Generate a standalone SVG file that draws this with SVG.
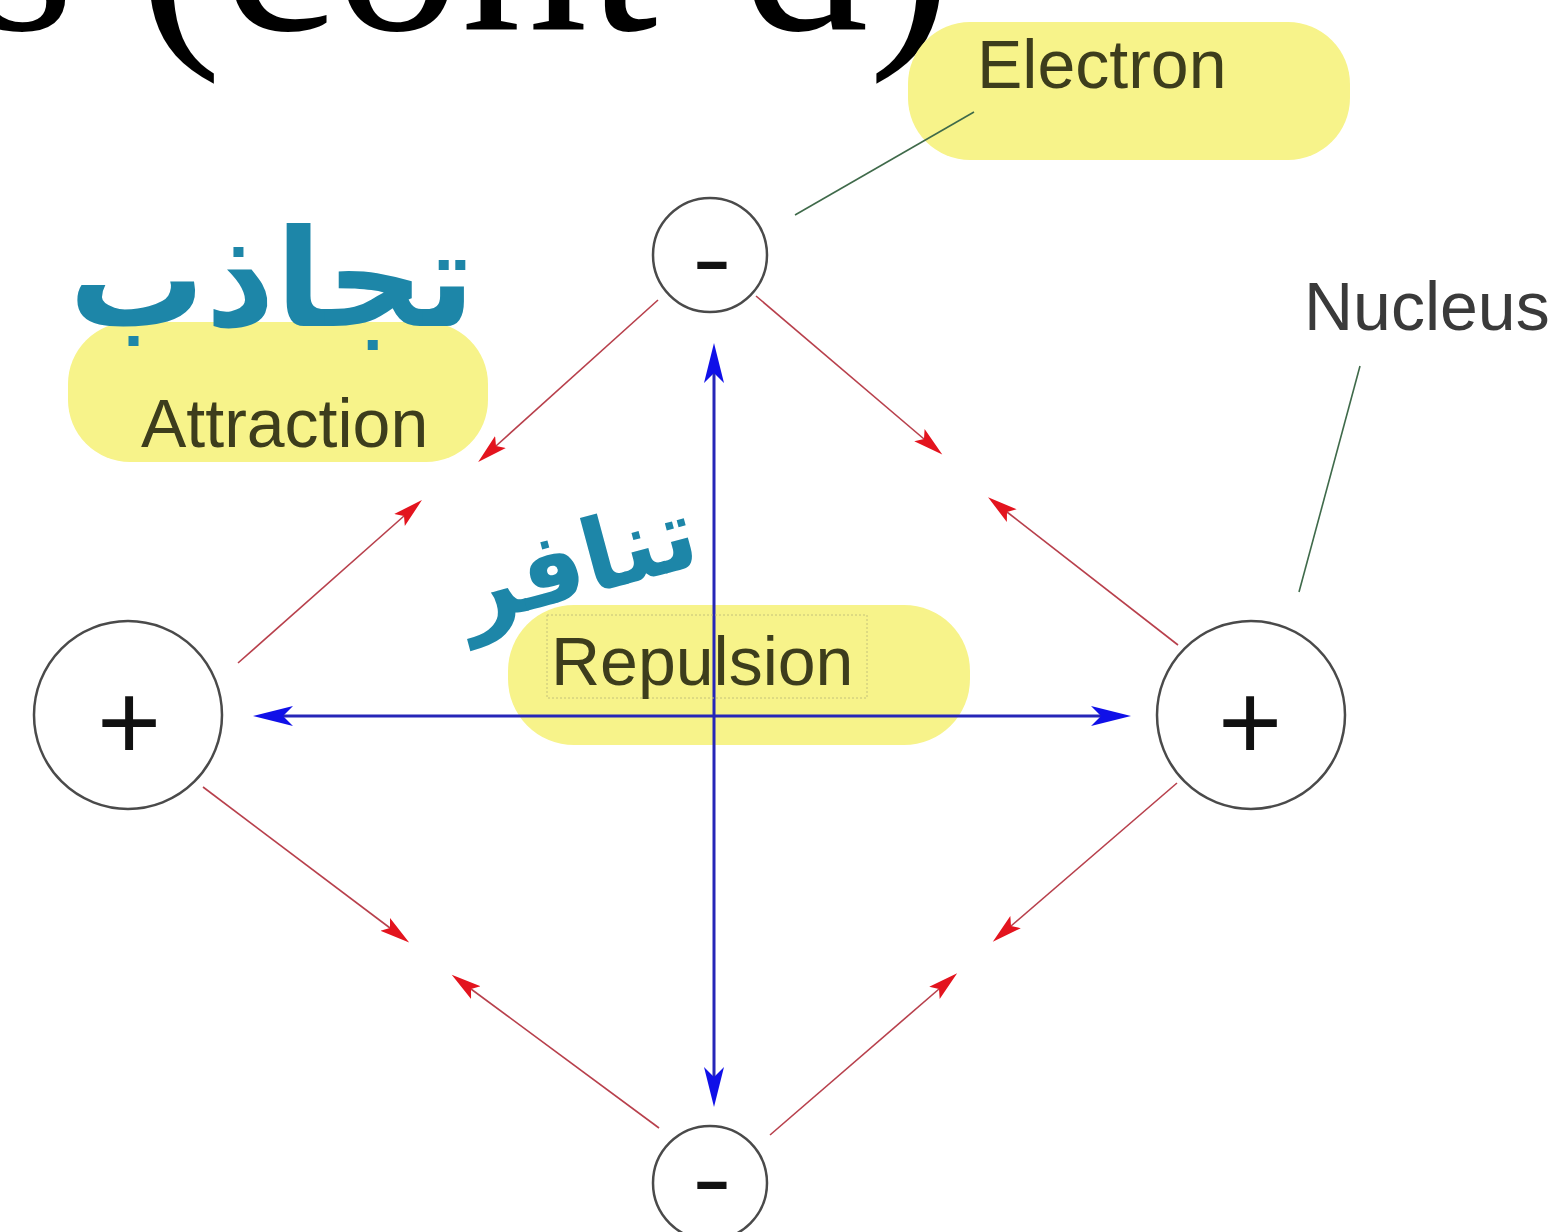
<svg xmlns="http://www.w3.org/2000/svg" width="1568" height="1232" viewBox="0 0 1568 1232">
  <defs>
    <style>
      .hl { fill: #f7f38a; }
      .lbl { font-family: "Liberation Sans", Arial, sans-serif; font-size: 68px; fill: #3d3d1c; }
      .atom { fill: #ffffff; stroke: #4a4a4a; stroke-width: 2.5; }
      .sign { font-family: "Liberation Sans", Arial, sans-serif; font-size: 110px; fill: #111111; text-anchor: middle; }
      .minus { font-family: "Liberation Sans", Arial, sans-serif; font-size: 92px; fill: #111111; text-anchor: middle; }
      .rep { stroke: #2626b8; stroke-width: 3; fill: none; marker-start: url(#blueHead); marker-end: url(#blueHead); }
      .att { stroke: #b8404c; stroke-width: 1.6; fill: none; marker-end: url(#redHead); }
      .lead { stroke: #3f6a4a; stroke-width: 1.6; fill: none; }
      .ar { font-family: "DejaVu Sans", "Noto Sans", sans-serif; font-weight: bold; fill: #1d86a8; }
    </style>
    <marker id="blueHead" markerUnits="userSpaceOnUse" viewBox="0 -12 42 24" markerWidth="42" markerHeight="24" refX="10" refY="0" orient="auto-start-reverse">
      <path d="M40,0 L0,-10 L10,0 L0,10 Z" fill="#1010e8"/>
    </marker>
    <marker id="redHead" markerUnits="userSpaceOnUse" viewBox="0 -10 32 20" markerWidth="32" markerHeight="20" refX="6" refY="0" orient="auto">
      <path d="M30,0 L0,-8 L6,0 L0,8 Z" fill="#e3141e"/>
    </marker>
  </defs>

  <rect width="1568" height="1232" fill="#ffffff"/>

  <!-- title fragment -->
  <text x="-24" y="30" font-family="'Liberation Serif', 'Times New Roman', serif" font-size="253" fill="#000000">s (cont’d)</text>

  <!-- highlighter marks -->
  <g id="highlights">
    <rect class="hl" x="908" y="22" width="442" height="138" rx="62"/>
    <rect class="hl" x="68" y="322" width="420" height="140" rx="62"/>
    <rect class="hl" x="508" y="605" width="462" height="140" rx="66"/>
  </g>

  <!-- connectors -->
  <g id="connectors">
    <line class="rep" x1="714" y1="373" x2="714" y2="1077"/>
    <line class="rep" x1="283" y1="716" x2="1101" y2="716"/>

    <line class="att" x1="658" y1="300" x2="496" y2="446"/>
    <line class="att" x1="238" y1="663" x2="404" y2="516"/>
    <line class="att" x1="756" y1="296" x2="924" y2="439"/>
    <line class="att" x1="1178" y1="645" x2="1007" y2="512"/>
    <line class="att" x1="203" y1="787" x2="390" y2="928"/>
    <line class="att" x1="659" y1="1128" x2="471" y2="989"/>
    <line class="att" x1="1177" y1="783" x2="1011" y2="926"/>
    <line class="att" x1="770" y1="1135" x2="939" y2="989"/>

    <line class="lead" x1="795" y1="215" x2="974" y2="112"/>
    <line class="lead" x1="1360" y1="366" x2="1299" y2="592"/>
  </g>

  <!-- nodes -->
  <g id="electron-top">
    <circle class="atom" cx="710" cy="255" r="57"/>
    <text class="minus" transform="translate(712 290) scale(1.3 1)">-</text>
  </g>
  <g id="electron-bottom">
    <circle class="atom" cx="710" cy="1183" r="57"/>
    <text class="minus" transform="translate(712 1210) scale(1.3 1)">-</text>
  </g>
  <g id="nucleus-left">
    <circle class="atom" cx="128" cy="715" r="94"/>
    <text class="sign" x="129" y="760">+</text>
  </g>
  <g id="nucleus-right">
    <circle class="atom" cx="1251" cy="715" r="94"/>
    <text class="sign" x="1250" y="760">+</text>
  </g>

  <!-- labels -->
  <g id="label-electron"><text class="lbl" x="977" y="88">Electron</text></g>
  <g id="label-nucleus"><text class="lbl" x="1304" y="330" style="fill:#3a3a3a">Nucleus</text></g>
  <g id="label-attraction"><text class="lbl" x="141" y="447">Attraction</text></g>
  <g id="label-repulsion">
    <rect x="547" y="615" width="320" height="83" fill="none" stroke="#c4c27a" stroke-width="1" stroke-dasharray="2 2"/>
    <text class="lbl" x="551" y="685">Repulsion</text>
  </g>

  <!-- handwritten Arabic annotations -->
  <g id="ar-attraction"><text class="ar" x="272" y="326" font-size="136" text-anchor="middle" direction="rtl">تجاذب</text></g>
  <g id="ar-repulsion"><text class="ar" x="578" y="596" font-size="100" text-anchor="middle" direction="rtl" transform="rotate(-15 578 566)">تنافر</text></g>
</svg>
